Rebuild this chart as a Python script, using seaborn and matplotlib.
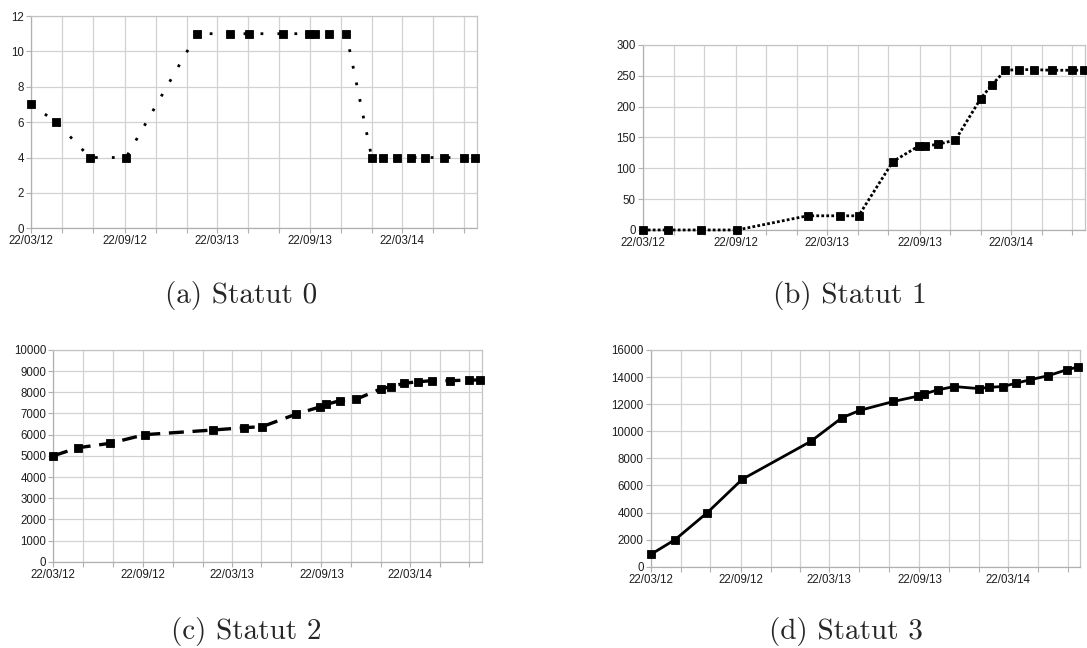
import matplotlib
matplotlib.use("Agg")
import matplotlib.pyplot as plt
import seaborn as sns
import pandas as pd
import numpy as np

# Observation dates shared by the four series
dates = ["2012-03-22", "2012-05-11", "2012-07-16", "2012-09-25", "2013-02-12",
         "2013-04-17", "2013-05-24", "2013-07-31", "2013-09-20", "2013-10-02",
         "2013-10-29", "2013-12-02", "2014-01-21", "2014-02-12", "2014-03-11",
         "2014-04-08", "2014-05-06", "2014-06-12", "2014-07-21", "2014-08-13"]

statut0 = [7, 6, 4, 4, 11, 11, 11, 11, 11, 11, 11, 11, 4, 4, 4, 4, 4, 4, 4, 4]
statut1 = [0, 0, 0, 0, 23, 23, 23, 111, 136, 136, 139, 146, 213, 235, 259, 260,
           260, 259, 259, 259]
statut2 = [5000, 5380, 5590, 6000, 6220, 6330, 6380, 6960, 7320, 7430, 7600,
           7670, 8160, 8270, 8430, 8500, 8550, 8550, 8580, 8580]
statut3 = [900, 2000, 4000, 6450, 9250, 11000, 11550, 12200, 12600, 12750, 13050,
           13300, 13150, 13250, 13300, 13550, 13800, 14100, 14550, 14750]

captions = ["(a) Statut 0", "(b) Statut 1", "(c) Statut 2", "(d) Statut 3"]
y_ticks = [np.arange(0, 13, 2), np.arange(0, 301, 50),
           np.arange(0, 10001, 1000), np.arange(0, 16001, 2000)]

# Gridlines every two months, labels every six months (always on the 22nd)
grid_dates = list(pd.date_range("2012-03-01", "2014-07-01", freq="2MS")
                  + pd.Timedelta(days=21))
label_dates = {pd.Timestamp(d) for d in
               ["2012-03-22", "2012-09-22", "2013-03-22", "2013-09-22", "2014-03-22"]}
x_left = pd.Timestamp("2012-03-22")
x_right = pd.Timestamp("2014-08-16")

sns.set_style("white")
plt.rcParams["font.family"] = ["Liberation Sans", "DejaVu Sans"]

fig = plt.figure(figsize=(10.87, 6.48), dpi=100)

positions = [
    [0.0285, 0.6477, 0.4103, 0.3276],
    [0.5913, 0.6451, 0.4069, 0.2855],
    [0.0490, 0.1332, 0.3941, 0.3267],
    [0.5986, 0.1255, 0.3949, 0.3344],
]
styles = [
    dict(linestyle=(0, (1, 5.1)), linewidth=2.0),
    dict(linestyle=(0, (1, 0.8)), linewidth=2.0),
    dict(linestyle=(0, (4.5, 2.6)), linewidth=2.4),
    dict(linestyle="-", linewidth=2.0),
]
series = [statut0, statut1, statut2, statut3]
caption_pos = [(241, 295), (850, 295), (246, 632), (846, 632)]

for pos, vals, st, yt in zip(positions, series, styles, y_ticks):
    ax = fig.add_axes(pos)
    df = pd.DataFrame({"date": pd.to_datetime(dates), "value": vals})
    sns.lineplot(data=df, x="date", y="value", ax=ax, color="black",
                 marker="s", markersize=6, markeredgewidth=0.6,
                 markeredgecolor="black", estimator=None, **st)
    for ln in ax.lines:
        ln.set_dash_capstyle("butt")
        ln.set_clip_on(False)
        ln.set_zorder(5)
    ax.set_xlim(x_left, x_right)
    ax.set_ylim(yt[0], yt[-1])
    ax.set_yticks(yt)
    ax.set_yticklabels([str(v) for v in yt])
    ax.set_xticks(grid_dates)
    ax.set_xticklabels([d.strftime("%d/%m/%y") if d in label_dates else ""
                        for d in grid_dates])
    ax.set_xlabel("")
    ax.set_ylabel("")
    ax.grid(True, color="#d2d2d2", linewidth=0.9)
    ax.set_axisbelow(True)
    for side, sp in ax.spines.items():
        sp.set_visible(True)
        sp.set_color("#c4c4c4" if side in ("top", "right") else "#b0b0b0")
        sp.set_linewidth(0.9)
    ax.tick_params(axis="both", which="major", length=3.5, width=0.8,
                   color="#b0b0b0", labelsize=8.3, labelcolor="#1e1e1e",
                   pad=1.5, bottom=True, left=True)

for text, (cx, cy) in zip(captions, caption_pos):
    fig.text(cx / 1087, 1 - cy / 648, text, ha="center", va="center",
             fontsize=21, family="cmr10")

fig.savefig("out.png", dpi=100)
